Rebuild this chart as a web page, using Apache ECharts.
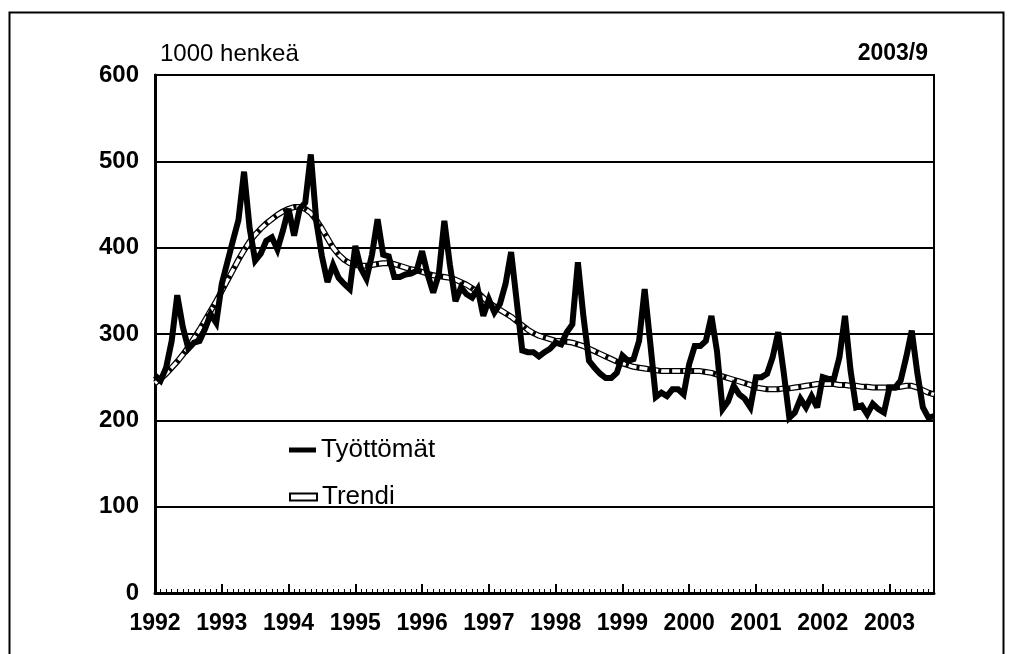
<!DOCTYPE html>
<html>
<head>
<meta charset="utf-8">
<script src="https://cdn.jsdelivr.net/npm/echarts@6/dist/echarts.min.js"></script>
<style>
html, body { margin: 0; padding: 0; background: #fff; }
#main { width: 1019px; height: 654px; }
</style>
</head>
<body>
<div id="main"></div>
<script>
// kuukausittain 1992/1 - 2003/9, 1000 henkeä
var years = ['1992', '1993', '1994', '1995', '1996', '1997', '1998', '1999', '2000', '2001', '2002', '2003'];

var tyottomat = [
  252, 246, 261, 292, 345, 308, 283, 290, 292, 306, 323, 313,
  358, 383, 408, 432, 488, 423, 385, 393, 408, 412, 398, 420,
  445, 414, 445, 452, 508, 430, 390, 360, 380, 365, 358, 352,
  402, 376, 364, 392, 433, 392, 390, 366, 366, 369, 370, 373,
  396, 369, 348, 369, 431, 380, 338, 354, 346, 342, 352, 321,
  340, 325, 335, 358, 395, 338, 281, 279, 279, 274, 279, 283,
  290, 288, 302, 311, 383, 320, 269, 261, 254, 249, 249, 255,
  275, 269, 271, 292, 352, 290, 227, 232, 228, 236, 236, 230,
  265, 286, 286, 292, 321, 280, 213, 222, 240, 230, 225, 215,
  250, 250, 254, 273, 302, 255, 203, 209, 225, 215, 228, 215,
  250, 248, 248, 273, 321, 258, 215, 217, 207, 219, 213, 209,
  238, 238, 246, 273, 304, 255, 215, 203, 205
];

var trendi = [
  243, 248, 254, 261, 268, 276, 285, 295, 305, 316, 327, 338,
  350, 362, 374, 386, 397, 407, 415, 422, 428, 433, 438, 442,
  445, 447, 447, 445, 440, 432, 422, 411, 400, 392, 386, 382,
  380, 379, 379, 380, 381, 382, 382, 381, 379, 377, 375, 374,
  372, 370, 368, 367, 366, 365, 363, 360, 357, 353, 348, 342,
  336, 332, 328, 324, 320, 315, 310, 305, 301, 298, 296, 294,
  292, 292, 291, 290, 288, 286, 283, 280, 277, 274, 271, 268,
  266, 264, 262, 261, 260, 259, 258, 257, 257, 257, 257, 257,
  257, 257, 257, 256, 255, 253, 251, 249, 247, 245, 243, 241,
  238, 237, 236, 236, 236, 237, 237, 238, 239, 240, 241, 242,
  242, 242, 242, 241, 241, 240, 240, 239, 239, 238, 238, 238,
  238, 238, 239, 240, 240, 238, 235, 232, 230
];

var fnt = '"Liberation Sans", Arial, sans-serif';

function pairs(arr) {
  return arr.map(function (v, i) { return [i, v]; });
}

var myChart = echarts.init(document.getElementById('main'));

var option = {
  animation: false,
  backgroundColor: '#fff',
  textStyle: { fontFamily: fnt, color: '#000' },
  title: [
    {
      text: '1000 henkeä', left: 155, top: 37,
      textStyle: { fontFamily: fnt, fontSize: 24, fontWeight: 'normal', color: '#000' }
    },
    {
      text: '2003/9', right: 86, top: 37,
      textStyle: { fontFamily: fnt, fontSize: 23, fontWeight: 'bold', color: '#000' }
    }
  ],
  graphic: [
    {
      type: 'rect', left: 7, top: 10, silent: true,
      shape: { width: 994, height: 660 },
      style: { fill: 'none', stroke: '#000', lineWidth: 2 }
    }
  ],
  legend: [
    {
      data: [{ name: 'Työttömät', itemStyle: { color: '#000' } }],
      orient: 'vertical', left: 289, top: 437, padding: 0,
      icon: 'rect', itemWidth: 27, itemHeight: 5,
      textStyle: { fontFamily: fnt, fontSize: 26, color: '#000' }
    },
    {
      data: [{ name: 'Trendi', itemStyle: { color: '#fff', borderColor: '#000', borderWidth: 2 } }],
      orient: 'vertical', left: 289, top: 484, padding: 0,
      icon: 'rect', itemWidth: 27, itemHeight: 7,
      textStyle: { fontFamily: fnt, fontSize: 26, color: '#000' }
    }
  ],
  grid: {
    left: 155, right: 85, top: 75, bottom: 61,
    show: true, borderColor: '#000', borderWidth: 2
  },
  xAxis: [
    {
      type: 'value', min: 0, max: 140, interval: 1,
      axisLine: { lineStyle: { color: '#000', width: 3 } },
      axisTick: { inside: true, length: 4, lineStyle: { color: '#000', width: 1 } },
      axisLabel: {
        margin: 19, fontFamily: fnt, fontSize: 23, fontWeight: 'bold', color: '#000',
        formatter: function (v) { return v % 12 === 0 ? years[v / 12] : ''; }
      },
      splitLine: { show: false }
    },
    {
      type: 'value', min: 0, max: 140, interval: 12, position: 'bottom',
      axisLine: { show: false },
      axisTick: { inside: true, length: 9, lineStyle: { color: '#000', width: 2 } },
      axisLabel: { show: false },
      splitLine: { show: false }
    }
  ],
  yAxis: {
    type: 'value', min: 0, max: 600, interval: 100,
    axisLine: { show: true, lineStyle: { color: '#000', width: 3 } },
    axisTick: { show: false },
    axisLabel: { margin: 16, fontFamily: fnt, fontSize: 24, fontWeight: 'bold', color: '#000' },
    splitLine: { lineStyle: { color: '#000', width: 2 } }
  },
  series: [
    {
      name: 'Trendi', type: 'line', showSymbol: false, symbol: 'none',
      data: pairs(trendi),
      lineStyle: { color: '#000', width: 6 },
      itemStyle: { color: '#fff', borderColor: '#000' },
      z: 2
    },
    {
      name: 'trendi-sisä', type: 'line', showSymbol: false, symbol: 'none',
      data: pairs(trendi),
      lineStyle: { color: '#fff', width: 3.5, type: [8, 3] },
      z: 3
    },
    {
      name: 'Työttömät', type: 'line', showSymbol: false, symbol: 'none',
      data: pairs(tyottomat),
      lineStyle: { color: '#000', width: 6, join: 'miter', miterLimit: 3 },
      itemStyle: { color: '#000' },
      z: 4
    }
  ]
};

myChart.setOption(option);
</script>
</body>
</html>
